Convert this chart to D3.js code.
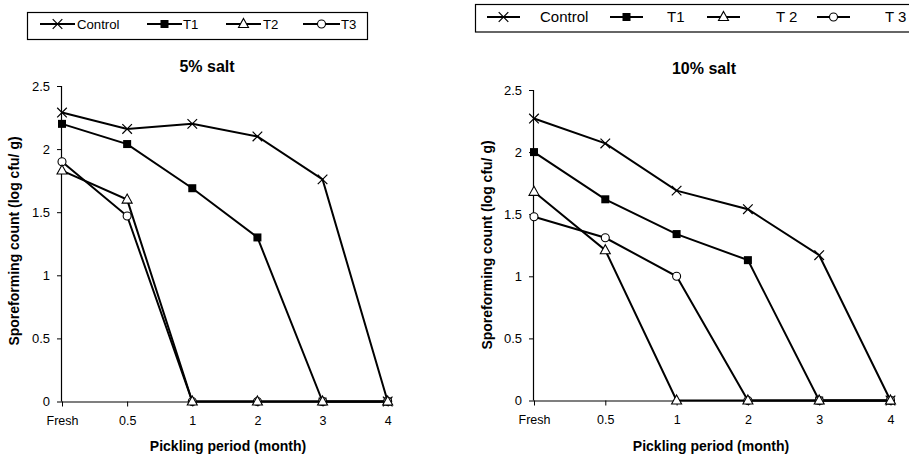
<!DOCTYPE html>
<html><head><meta charset="utf-8">
<script src="https://cdn.jsdelivr.net/npm/d3@7"></script>
<style>body{margin:0;background:#fff}svg{display:block}text{font-family:"Liberation Sans",Arial,sans-serif}</style>
</head><body>
<svg id="c" width="909" height="457"></svg>
<script>
const categories = ["Fresh","0.5","1","2","3","4"];
const seriesNames = ["Control","T1","T2","T3"];
const yTicks = [0,0.5,1,1.5,2,2.5];
// 5% salt
const salt5Control = [2.29,2.16,2.20,2.10,1.76,0];
const salt5T1 = [2.20,2.04,1.69,1.30,0,0];
const salt5T2 = [1.83,1.60,0,0,0,0];
const salt5T3 = [1.90,1.47,0,0,0,0];
// 10% salt
const salt10Control = [2.27,2.07,1.69,1.54,1.17,0];
const salt10T1 = [2.00,1.62,1.34,1.13,0,0];
const salt10T2 = [1.68,1.21,0,0,0,0];
const salt10T3 = [1.48,1.31,1.00,0,0,0];

const svg = d3.select("#c");

function marker(g, type, x, y){
  if(type==="Control"){
    const s=4.8;
    g.append("path").attr("d",`M${x-s},${y-s}L${x+s},${y+s}M${x-s},${y+s}L${x+s},${y-s}`)
      .attr("stroke","#000").attr("stroke-width",1.2).attr("fill","none");
  } else if(type==="T1"){
    g.append("rect").attr("x",x-4).attr("y",y-4).attr("width",8).attr("height",8).attr("fill","#000");
  } else if(type==="T2"){
    g.append("path").attr("d",`M${x},${y-5.5}L${x+5},${y+3.5}L${x-5},${y+3.5}Z`)
      .attr("fill","#fff").attr("stroke","#000").attr("stroke-width",1.1);
  } else {
    g.append("circle").attr("cx",x).attr("cy",y).attr("r",4).attr("fill","#fff").attr("stroke","#000").attr("stroke-width",1.1);
  }
}

function chart(cfg){
  const g = svg.append("g");
  const x = d3.scalePoint().domain(categories).range(cfg.xr).padding(0);
  const y = d3.scaleLinear().domain([0,2.5]).range(cfg.yr);
  const ya = g.append("g").attr("transform",`translate(${cfg.xr[0]},0)`)
    .call(d3.axisLeft(y).tickValues(yTicks).tickSize(5).tickPadding(7).tickFormat(d=>String(d)));
  ya.select(".domain").attr("d",`M-0.5,${cfg.yr[1]}V${cfg.yr[0]}`).attr("stroke-width",1.2);
  ya.selectAll("text").attr("font-size",13).attr("font-family","Liberation Sans, Arial");
  const xa = g.append("g").attr("transform",`translate(0,${cfg.yr[0]})`)
    .call(d3.axisBottom(x).tickSize(5).tickPadding(10));
  xa.select(".domain").attr("d",`M${cfg.xr[0]},0.5H${cfg.xr[1]+3}`).attr("stroke-width",1.2);
  xa.selectAll("text").attr("font-size",12.5).attr("font-family","Liberation Sans, Arial");
  g.append("text").attr("x",cfg.tx).attr("y",cfg.ty).attr("text-anchor","middle")
    .attr("font-weight","bold").attr("font-size",16).text(cfg.title);
  g.append("text").attr("x",cfg.axx).attr("y",451).attr("text-anchor","middle")
    .attr("font-weight","bold").attr("font-size",14).text("Pickling period (month)");
  g.append("text").attr("transform",`translate(${cfg.ylx},${cfg.yly}) rotate(-90)`).attr("text-anchor","middle")
    .attr("font-weight","bold").attr("font-size",14).text("Sporeforming count (log cfu/ g)");
  const line = d3.line().x((d,i)=>x(categories[i])).y(d=>y(d));
  const data = cfg.data;
  seriesNames.forEach((s,k)=>{
    g.append("path").attr("d",line(data[k])).attr("fill","none").attr("stroke","#000").attr("stroke-width",2);
  });
  [0,1,3,2].forEach(k=>{
    data[k].forEach((v,i)=>marker(g, seriesNames[k], x(categories[i]), y(v)));
  });
}

chart({xr:[62,387.7], yr:[401.5,86], title:"5% salt", tx:207, ty:72, axx:228, ylx:19, yly:241,
  data:[salt5Control,salt5T1,salt5T2,salt5T3]});
chart({xr:[534,890.5], yr:[400.5,90], title:"10% salt", tx:704, ty:74, axx:711, ylx:492, yly:245,
  data:[salt10Control,salt10T1,salt10T2,salt10T3]});

function legend(cfg){
  const g = svg.append("g");
  g.append("rect").attr("x",cfg.box[0]).attr("y",cfg.box[1]).attr("width",cfg.box[2]).attr("height",cfg.box[3])
    .attr("fill","#fff").attr("stroke","#000").attr("stroke-width",1.2);
  seriesNames.forEach((s,k)=>{
    const it = cfg.items[k];
    g.append("line").attr("x1",it[0]).attr("x2",it[1]).attr("y1",cfg.cy).attr("y2",cfg.cy).attr("stroke","#000").attr("stroke-width",2);
    marker(g, s, (it[0]+it[1])/2, cfg.cy);
    g.append("text").attr("x",it[2]).attr("y",cfg.cy).attr("dy","0.35em").attr("font-size",cfg.fs).text(cfg.labels[k]);
  });
}
legend({box:[27.5,12.5,340,27], cy:24, fs:13.2,
  items:[[40,75,77],[147,182,183],[226,261,263],[303,340,341]], labels:["Control","T1","T2","T3"]});
legend({box:[475.5,4.5,440,27.5], cy:17, fs:15,
  items:[[487,520,540],[610,643,667],[707,740,776],[817,850,885]], labels:["Control","T1","T 2","T 3"]});
</script>
</body></html>
